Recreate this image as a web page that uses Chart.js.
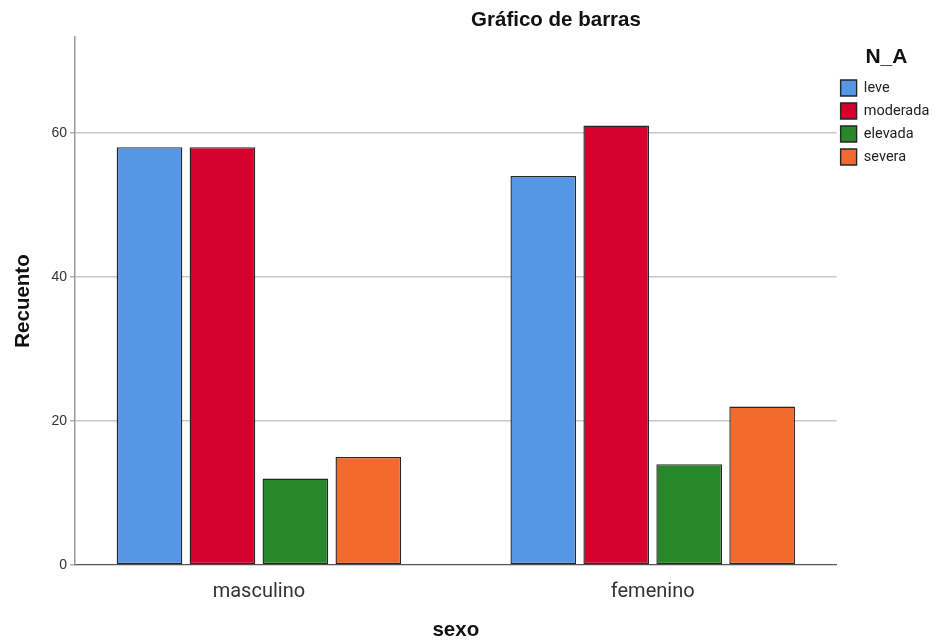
<!DOCTYPE html>
<html><head><meta charset="utf-8">
<script src="https://cdn.jsdelivr.net/npm/chart.js@4"></script>
<style>html,body{margin:0;padding:0;background:#fff}#wrap{width:943px;height:643px}</style>
</head><body><div id="wrap"><canvas id="c" width="943" height="643"></canvas></div>
<script>
const chartTitle = 'Gráfico de barras';
const categories = ['masculino', 'femenino'];
const seriesNames = ['leve', 'moderada', 'elevada', 'severa'];
const leve = [58, 54];
const moderada = [58, 61];
const elevada = [12, 14];
const severa = [15, 22];
const yTicks = [0, 20, 40, 60];
const colors = ['#5596E6', '#D6002E', '#288728', '#F26A2E'];

const seriesValues = [leve, moderada, elevada, severa];
const datasets = seriesNames.map((name, k) => ({
  label: name,
  data: categories.map((c, i) => ({x: i, y: seriesValues[k][i]})),
  backgroundColor: colors[k],
  borderColor: '#262626',
  borderWidth: 1.4,
  borderSkipped: false,
  categoryPercentage: 0.741,
  barPercentage: 0.9
}));

const titlePlugin = {
  id: 'ctitle',
  afterLayout(chart) {
    // nudge legend slightly left so its boxes sit just right of the plot edge
    if (chart.legend) { chart.legend.left -= 3; chart.legend.right -= 3; }
  },
  afterDraw(chart) {
    const ctx = chart.ctx;
    ctx.save();
    ctx.font = 'bold 20.5px "Liberation Sans", Arial, sans-serif';
    ctx.fillStyle = '#111';
    ctx.textAlign = 'center';
    ctx.textBaseline = 'middle';
    ctx.fillText(chartTitle, 556, 20);
    ctx.restore();
  }
};

new Chart(document.getElementById('c'), {
  type: 'bar',
  data: { datasets },
  plugins: [titlePlugin],
  options: {
    responsive: false,
    animation: false,
    layout: { padding: { top: 37, right: 0.7, left: 0, bottom: 0 } },
    plugins: {
      tooltip: { enabled: false },
      title: { display: false },
      legend: {
        position: 'right',
        align: 'start',
        title: { display: true, text: 'N_A', color: '#111', font: { family: '"Liberation Sans", Arial, sans-serif', size: 21, weight: 'bold' }, padding: { top: 9.5, bottom: 1.3 } },
        labels: {
          boxWidth: 16, boxHeight: 16, padding: 7, color: '#222',
          font: { family: 'Roboto, "Liberation Sans", sans-serif', size: 14.5 }
        }
      }
    },
    scales: {
      x: {
        type: 'linear',
        min: -0.467, max: 1.467,
        offset: false,
        grid: { display: false },
        border: { display: true, color: '#555', width: 1.2 },
        afterBuildTicks(scale) { scale.ticks = categories.map((c, i) => ({ value: i })); },
        afterFit(scale) { scale.height = 78; },
        ticks: {
          callback: (v) => categories[v] !== undefined ? categories[v] : '',
          color: '#333', padding: 7, maxRotation: 0,
          font: { family: 'Roboto, "Liberation Sans", sans-serif', size: 20 }
        },
        title: { display: true, text: 'sexo', color: '#111', padding: { top: 0, bottom: 0 },
          font: { family: '"Liberation Sans", Arial, sans-serif', size: 20.5, weight: 'bold' } }
      },
      y: {
        min: 0, max: 73.3,
        afterBuildTicks(scale) { scale.ticks = yTicks.map(v => ({ value: v })); },
        afterFit(scale) { scale.width = 75; },
        grid: { color: (c) => c.tick && c.tick.value === 0 ? 'rgba(0,0,0,0)' : '#c8c8c8', lineWidth: 1.5, tickLength: 5, tickColor: '#b0b0b0' },
        border: { display: true, color: '#999', width: 1.5 },
        ticks: { color: '#333', padding: 3, font: { family: '"Liberation Sans", Arial, sans-serif', size: 14 } },
        title: { display: true, text: 'Recuento', color: '#111', padding: { top: 11, bottom: 0 },
          font: { family: '"Liberation Sans", Arial, sans-serif', size: 20.5, weight: 'bold' } }
      }
    }
  }
});
</script></body></html>
